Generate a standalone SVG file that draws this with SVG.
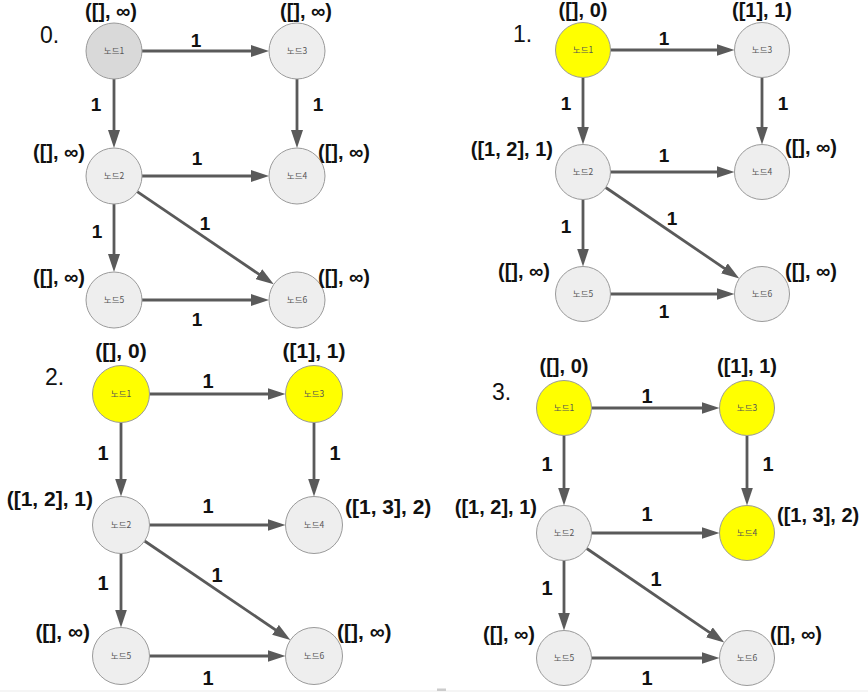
<svg xmlns="http://www.w3.org/2000/svg" width="868" height="692" viewBox="0 0 868 692">
<style>
.bg{fill:#ffffff}
.n{fill:#eeeeee;stroke:#9a9a9a;stroke-width:1}
.s{fill:#d9d9d9;stroke:#9a9a9a;stroke-width:1}
.y{fill:#ffff00;stroke:#9a9a9a;stroke-width:1}
.nt{font-family:"Noto Sans CJK KR","Liberation Sans",sans-serif;font-size:8.5px;fill:#555555;text-anchor:middle}
.e{stroke:#5a5a5a;stroke-width:2.8;fill:none;marker-end:url(#ah)}
.w{font-family:"Liberation Sans",Arial,sans-serif;font-weight:bold;font-size:19px;fill:#111111;text-anchor:middle}
.w2{font-size:20px}
.a{font-family:"Liberation Sans",Arial,sans-serif;font-weight:bold;font-size:20px;fill:#111111}
.a2{font-size:21px}
.m{text-anchor:middle}
.r{text-anchor:end}
.p{font-family:"Liberation Sans",Arial,sans-serif;font-size:23px;fill:#111111}
</style>
<defs>
<marker id="ah" markerWidth="18" markerHeight="12" refX="12" refY="6" orient="auto" markerUnits="userSpaceOnUse">
<path d="M0,0 L18,6 L0,12 Z" fill="#5a5a5a"/>
</marker>
</defs>
<rect class="bg" x="0" y="0" width="868" height="692"/>

<!-- Panel 0 -->
<g id="panel0">
<text class="p" x="40" y="43">0.</text>
<g id="p0-connectors">
<line class="e" x1="142" y1="51" x2="263" y2="51"/>
<line class="e" x1="114" y1="79" x2="114" y2="142"/>
<line class="e" x1="297" y1="79" x2="297" y2="142"/>
<line class="e" x1="142" y1="176" x2="263" y2="176"/>
<line class="e" x1="114" y1="204" x2="114" y2="266"/>
<line class="e" x1="137.2" y1="191.7" x2="268.8" y2="280.9"/>
<line class="e" x1="142" y1="300" x2="263" y2="300"/>
<text class="w" x="196" y="47">1</text>
<text class="w" x="96" y="111">1</text>
<text class="w" x="318" y="111">1</text>
<text class="w" x="197" y="165">1</text>
<text class="w" x="97" y="238">1</text>
<text class="w" x="205" y="230">1</text>
<text class="w" x="197" y="326">1</text>
</g>
<g id="p0-n1"><circle class="s" cx="114" cy="51" r="28"/><text class="nt" x="114" y="54">노드1</text><text class="a m" x="111" y="18">([], ∞)</text></g>
<g id="p0-n3"><circle class="n" cx="297" cy="51" r="28"/><text class="nt" x="297" y="54">노드3</text><text class="a m" x="306" y="18">([], ∞)</text></g>
<g id="p0-n2"><circle class="n" cx="114" cy="176" r="28"/><text class="nt" x="114" y="179">노드2</text><text class="a r" x="85" y="159">([], ∞)</text></g>
<g id="p0-n4"><circle class="n" cx="297" cy="176" r="28"/><text class="nt" x="297" y="179">노드4</text><text class="a" x="318" y="159">([], ∞)</text></g>
<g id="p0-n5"><circle class="n" cx="114" cy="300" r="28"/><text class="nt" x="114" y="303">노드5</text><text class="a r" x="85" y="284">([], ∞)</text></g>
<g id="p0-n6"><circle class="n" cx="297" cy="300" r="28"/><text class="nt" x="297" y="303">노드6</text><text class="a" x="318" y="284">([], ∞)</text></g>
</g>

<!-- Panel 1 -->
<g id="panel1">
<text class="p" x="513" y="42">1.</text>
<g id="p1-connectors">
<line class="e" x1="610.5" y1="50" x2="728.5" y2="50"/>
<line class="e" x1="583" y1="77.5" x2="583" y2="138.5"/>
<line class="e" x1="762" y1="77.5" x2="762" y2="138.5"/>
<line class="e" x1="610.5" y1="172" x2="728.5" y2="172"/>
<line class="e" x1="583" y1="199.5" x2="583" y2="260.5"/>
<line class="e" x1="605.7" y1="187.5" x2="734.3" y2="275.1"/>
<line class="e" x1="610.5" y1="294" x2="728.5" y2="294"/>
<text class="w" x="664" y="45">1</text>
<text class="w" x="566" y="110">1</text>
<text class="w" x="783" y="110">1</text>
<text class="w" x="664" y="162">1</text>
<text class="w" x="566" y="233">1</text>
<text class="w" x="672" y="225">1</text>
<text class="w" x="664" y="318">1</text>
</g>
<g id="p1-n1"><circle class="y" cx="583" cy="50" r="27.5"/><text class="nt" x="583" y="53">노드1</text><text class="a m" x="583" y="17">([], 0)</text></g>
<g id="p1-n3"><circle class="n" cx="762" cy="50" r="27.5"/><text class="nt" x="762" y="53">노드3</text><text class="a m" x="762" y="17">([1], 1)</text></g>
<g id="p1-n2"><circle class="n" cx="583" cy="172" r="27.5"/><text class="nt" x="583" y="175">노드2</text><text class="a r" x="553" y="156">([1, 2], 1)</text></g>
<g id="p1-n4"><circle class="n" cx="762" cy="172" r="27.5"/><text class="nt" x="762" y="175">노드4</text><text class="a" x="785" y="154">([], ∞)</text></g>
<g id="p1-n5"><circle class="n" cx="583" cy="294" r="27.5"/><text class="nt" x="583" y="297">노드5</text><text class="a r" x="550" y="278">([], ∞)</text></g>
<g id="p1-n6"><circle class="n" cx="762" cy="294" r="27.5"/><text class="nt" x="762" y="297">노드6</text><text class="a" x="785" y="278">([], ∞)</text></g>
</g>

<!-- Panel 2 -->
<g id="panel2">
<text class="p" x="45" y="385">2.</text>
<g id="p2-connectors">
<line class="e" x1="149.5" y1="394" x2="279.5" y2="394"/>
<line class="e" x1="121" y1="422.5" x2="121" y2="490.5"/>
<line class="e" x1="314" y1="422.5" x2="314" y2="490.5"/>
<line class="e" x1="149.5" y1="525" x2="279.5" y2="525"/>
<line class="e" x1="121" y1="553.5" x2="121" y2="621.5"/>
<line class="e" x1="144.6" y1="541" x2="285.4" y2="636.6"/>
<line class="e" x1="149.5" y1="656" x2="279.5" y2="656"/>
<text class="w w2" x="208" y="388">1</text>
<text class="w w2" x="103" y="460">1</text>
<text class="w w2" x="335" y="460">1</text>
<text class="w w2" x="208" y="513">1</text>
<text class="w w2" x="103" y="590">1</text>
<text class="w w2" x="217" y="582">1</text>
<text class="w w2" x="208" y="685">1</text>
</g>
<g id="p2-n1"><circle class="y" cx="121" cy="394" r="28.5"/><text class="nt" x="121" y="397">노드1</text><text class="a a2 m" x="121" y="358">([], 0)</text></g>
<g id="p2-n3"><circle class="y" cx="314" cy="394" r="28.5"/><text class="nt" x="314" y="397">노드3</text><text class="a a2 m" x="314" y="358">([1], 1)</text></g>
<g id="p2-n2"><circle class="n" cx="121" cy="525" r="28.5"/><text class="nt" x="121" y="528">노드2</text><text class="a a2 r" x="93" y="506">([1, 2], 1)</text></g>
<g id="p2-n4"><circle class="n" cx="314" cy="525" r="28.5"/><text class="nt" x="314" y="528">노드4</text><text class="a a2" x="345" y="514">([1, 3], 2)</text></g>
<g id="p2-n5"><circle class="n" cx="121" cy="656" r="28.5"/><text class="nt" x="121" y="659">노드5</text><text class="a a2 r" x="90" y="639">([], ∞)</text></g>
<g id="p2-n6"><circle class="n" cx="314" cy="656" r="28.5"/><text class="nt" x="314" y="659">노드6</text><text class="a a2" x="337" y="639">([], ∞)</text></g>
</g>

<!-- Panel 3 -->
<g id="panel3">
<text class="p" x="492" y="400">3.</text>
<g id="p3-connectors">
<line class="e" x1="591.5" y1="408" x2="713.5" y2="408"/>
<line class="e" x1="564" y1="435.5" x2="564" y2="499.5"/>
<line class="e" x1="747" y1="435.5" x2="747" y2="499.5"/>
<line class="e" x1="591.5" y1="533" x2="713.5" y2="533"/>
<line class="e" x1="564" y1="560.5" x2="564" y2="624.5"/>
<line class="e" x1="586.7" y1="548.5" x2="719.3" y2="639.1"/>
<line class="e" x1="591.5" y1="658" x2="713.5" y2="658"/>
<text class="w w2" x="647" y="403">1</text>
<text class="w w2" x="547" y="471">1</text>
<text class="w w2" x="768" y="471">1</text>
<text class="w w2" x="647" y="521">1</text>
<text class="w w2" x="547" y="595">1</text>
<text class="w w2" x="656" y="586">1</text>
<text class="w w2" x="647" y="685">1</text>
</g>
<g id="p3-n1"><circle class="y" cx="564" cy="408" r="27.5"/><text class="nt" x="564" y="411">노드1</text><text class="a m" x="564" y="373">([], 0)</text></g>
<g id="p3-n3"><circle class="y" cx="747" cy="408" r="27.5"/><text class="nt" x="747" y="411">노드3</text><text class="a m" x="747" y="373">([1], 1)</text></g>
<g id="p3-n2"><circle class="n" cx="564" cy="533" r="27.5"/><text class="nt" x="564" y="536">노드2</text><text class="a r" x="537" y="514">([1, 2], 1)</text></g>
<g id="p3-n4"><circle class="y" cx="747" cy="533" r="27.5"/><text class="nt" x="747" y="536">노드4</text><text class="a" x="777" y="522">([1, 3], 2)</text></g>
<g id="p3-n5"><circle class="n" cx="564" cy="658" r="27.5"/><text class="nt" x="564" y="661">노드5</text><text class="a r" x="535" y="641">([], ∞)</text></g>
<g id="p3-n6"><circle class="n" cx="747" cy="658" r="27.5"/><text class="nt" x="747" y="661">노드6</text><text class="a" x="770" y="641">([], ∞)</text></g>
</g>

<line x1="0" y1="691" x2="868" y2="691" stroke="#ebebeb" stroke-width="1"/>
<rect x="437" y="688.5" width="9" height="2.5" fill="#cccccc"/>
</svg>
